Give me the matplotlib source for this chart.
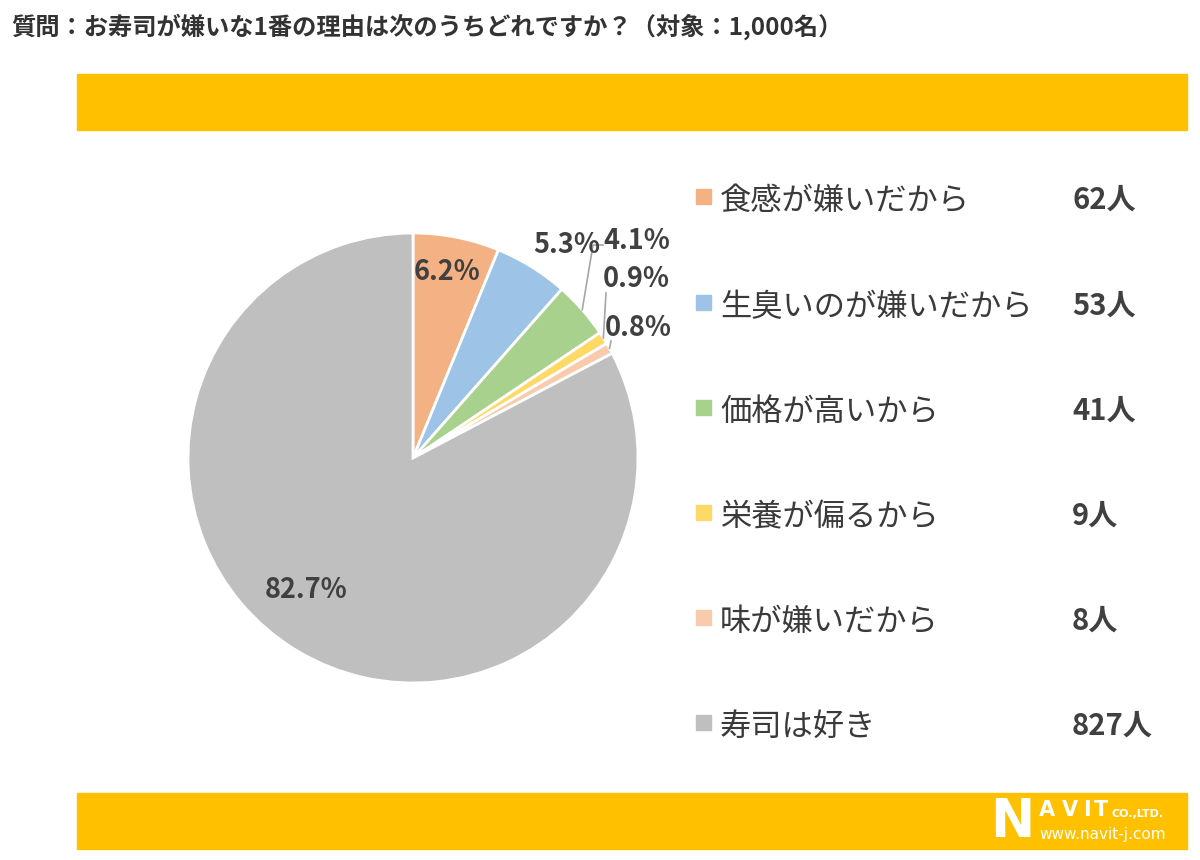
import numpy as np
import matplotlib
matplotlib.use("Agg")
import matplotlib.pyplot as plt
from matplotlib.patches import Rectangle

plt.rcParams['font.family'] = ['Noto Sans CJK JP', 'DejaVu Sans']

# ---- data ----
title = "質問：お寿司が嫌いな1番の理由は次のうちどれですか？（対象：1,000名）"
categories = ["食感が嫌いだから", "生臭いのが嫌いだから", "価格が高いから",
              "栄養が偏るから", "味が嫌いだから", "寿司は好き"]
counts = [62, 53, 41, 9, 8, 827]
percent_labels = ["6.2%", "5.3%", "4.1%", "0.9%", "0.8%", "82.7%"]
colors = ["#F4B183", "#9DC3E6", "#A9D18E", "#FFD966", "#F8CBAD", "#BFBFBF"]

W, H = 1200, 860
fig = plt.figure(figsize=(W / 100, H / 100), dpi=100)
fig.patch.set_facecolor("white")

def fx(px):
    return px / W

def fy(py):
    return 1 - py / H

text_color = "#404040"
bar_color = "#FFC000"

# title
fig.text(fx(11), fy(27), title, fontsize=17.5, fontweight="bold",
         color="#333333", ha="left", va="center")

# bars
fig.patches.append(Rectangle((fx(77), fy(130)), fx(1187) - fx(77), fy(74) - fy(130),
                             transform=fig.transFigure, color=bar_color, zorder=0))
fig.patches.append(Rectangle((fx(77), fy(849)), fx(1187) - fx(77), fy(793) - fy(849),
                             transform=fig.transFigure, color=bar_color, zorder=0))

# pie
cx, cy, R = 413, 458, 225
ax = fig.add_axes([fx(cx - R), fy(cy + R), 2 * R / W, 2 * R / H])
wedges, _ = ax.pie(counts, colors=colors, startangle=90, counterclock=False,
                   wedgeprops=dict(edgecolor="white", linewidth=2.0), radius=1.0)
ax.set_xlim(-1, 1)
ax.set_ylim(-1, 1)
ax.set_aspect("equal")
ax.axis("off")

def d(px, py):
    return ((px - cx) / R, (cy - py) / R)

# label positions (pixel space), and leader-line elbows
label_pos = [(447, 272), (567, 245), (637, 241), (636, 279), (638, 328), (306, 590)]
leaders = {2: [(593, 245), (603, 245)], 3: [(606, 293)], 4: [(611, 341)]}

for i, (w, lab) in enumerate(zip(wedges, percent_labels)):
    x, y = d(*label_pos[i])
    ax.text(x, y, lab, fontsize=19.5, fontweight="bold", color=text_color,
            ha="center", va="center", clip_on=False)
    if i in leaders:
        mid = np.deg2rad((w.theta1 + w.theta2) / 2)
        pts = [(np.cos(mid), np.sin(mid))] + [d(*p) for p in leaders[i]]
        xs, ys = zip(*pts)
        ax.plot(xs, ys, color="#A6A6A6", lw=1.2, clip_on=False)

# legend
row_y = [197, 303, 408, 513, 618, 723]
for cat, cnt, col, yy in zip(categories, counts, colors, row_y):
    fig.patches.append(Rectangle((fx(696), fy(yy + 7)), 15 / W, 15 / H,
                                 transform=fig.transFigure, color=col))
    fig.text(fx(720), fy(yy + 4), cat, fontsize=22.5, color="#3a3a3a",
             ha="left", va="center")
    fig.text(fx(1072), fy(yy + 3), f"{cnt}人", fontsize=21, fontweight="bold",
             color=text_color, ha="left", va="center")

# logo
fig.text(fx(990), fy(822), "N", fontsize=38, fontweight="bold", color="white",
         ha="left", va="center", family="DejaVu Sans")
for ch, xx in zip("AVIT", [1039, 1062, 1083, 1094]):
    fig.text(fx(xx), fy(810), ch, fontsize=15, fontweight="bold", color="white",
             ha="left", va="center", family="DejaVu Sans")
fig.text(fx(1112), fy(814), "CO.,LTD.", fontsize=8, fontweight="bold", color="white",
         ha="left", va="center", family="DejaVu Sans")
fig.text(fx(1039), fy(834), "www.navit-j.com", fontsize=11, color="white",
         ha="left", va="center", family="DejaVu Sans")

fig.savefig("out.png", dpi=100, facecolor="white")
